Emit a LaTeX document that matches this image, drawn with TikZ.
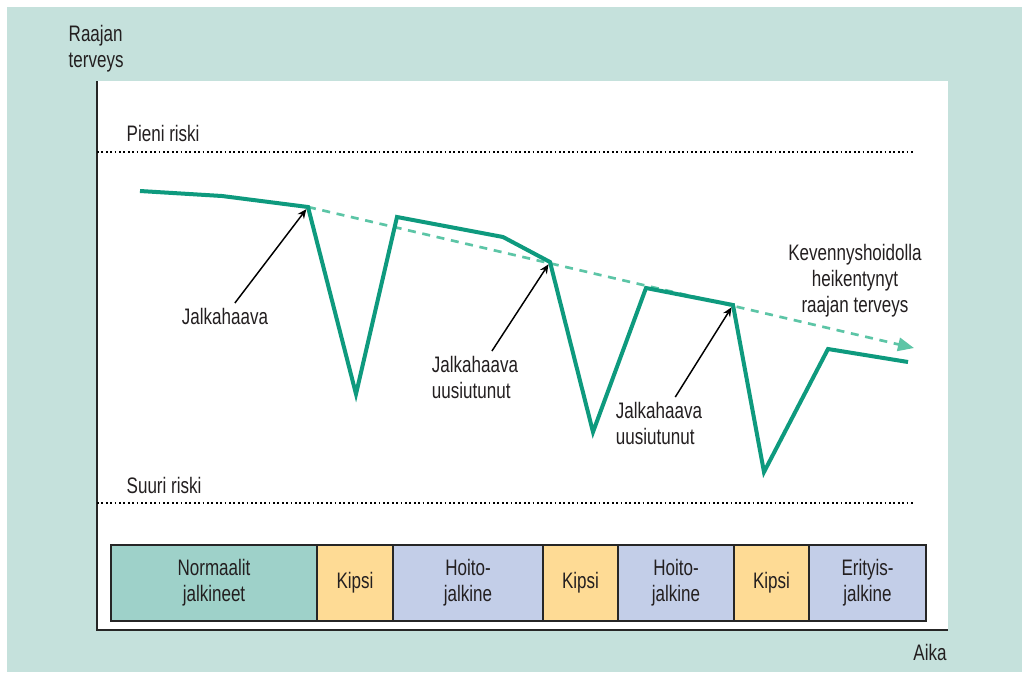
\documentclass[tikz,border=0pt]{standalone}
\usepackage{fontspec}
\setmainfont[FakeStretch=0.76]{Liberation Sans}
\usetikzlibrary{arrows.meta, positioning}

\definecolor{panelbg}{HTML}{C5E1DC}
\definecolor{healthgreen}{HTML}{0E9A7E}
\definecolor{trendgreen}{HTML}{5CC5A6}
\definecolor{shoeteal}{HTML}{9ED1C9}
\definecolor{castyellow}{HTML}{FEDB95}
\definecolor{careblue}{HTML}{C3CEE8}
\definecolor{textgray}{HTML}{231F20}

\begin{document}
\begin{tikzpicture}[
    x=0.75pt, y=-0.75pt,
    every node/.style={
            font=\fontsize{16.8}{19.5}\selectfont,
            text=textgray
        },
    health/.style={draw=healthgreen, line width=3pt},
    trend/.style={
            draw=trendgreen,
            line width=2pt,
            dash pattern=on 6pt off 5pt,
            -{Triangle[length=12pt, width=10pt, fill=trendgreen]}
        },
    pointer/.style={-{Stealth[length=7pt, width=6pt]}, line width=1.1pt, shorten >=2pt},
    axis/.style={line width=1.5pt, draw=black!85},
    risk_line/.style={dotted, line width=1.3pt},
    phase/.style={
            draw=black!85,
            line width=1.2pt,
            minimum height=57pt,
            inner sep=0pt,
            outer sep=0pt,
            align=center
        },
    plain_shoe/.style={phase, fill=shoeteal},
    cast_block/.style={phase, fill=castyellow},
    care_block/.style={phase, fill=careblue},
    ]

    % --- Background ---
    \useasboundingbox (0,0) rectangle (1022,672);
    \fill[white] (0,0) rectangle (1022,672);
    \fill[panelbg] (7,7) rectangle (1022,672);
    \fill[white] (97,81) rectangle (948,630);

    % --- Axes ---
    \draw[axis] (97,81) -- (97,630) -- (948,630);
    \node (y_label) [anchor=west, align=left] at (64,49) {Raajan\\terveys};
    \node (x_label) at (930,652) {Aika};

    % --- Risk levels ---
    \draw[risk_line] (97,152) -- (915,152);
    \draw[risk_line] (97,503) -- (915,503);
    \node (low_risk) [anchor=west] at (122,133) {Pieni riski};
    \node (high_risk) [anchor=west] at (122,485) {Suuri riski};

    % --- Limb health ---
    \coordinate (h0) at (140,191);
    \coordinate (h1) at (222,196);
    \coordinate (kink_a) at (308,207);
    \coordinate (h3) at (356,394);
    \coordinate (h4) at (397,217);
    \coordinate (h5) at (503,237);
    \coordinate (kink_b) at (550,262);
    \coordinate (h7) at (593,432);
    \coordinate (h8) at (646,288);
    \coordinate (kink_c) at (733,305);
    \coordinate (h10) at (764,472);
    \coordinate (h11) at (828,349);
    \coordinate (h12) at (908,362);
    \coordinate (trend_end) at (914,348);

    \draw[trend] (kink_a) -- (trend_end);
    \draw[health] (h0) -- (h1) -- (kink_a) -- (h3) -- (h4) -- (h5) -- (kink_b)
        -- (h7) -- (h8) -- (kink_c) -- (h10) -- (h11) -- (h12);

    % --- Labels ---
    \node (wound_a) at (225,316) {Jalkahaava};
    \node (wound_b) [align=left] at (475,377) {Jalkahaava\\uusiutunut};
    \node (wound_c) [align=left] at (659,423) {Jalkahaava\\uusiutunut};
    \node (trend_label) [align=center] at (855,281) {Kevennyshoidolla\\heikentynyt\\raajan terveys};

    \draw[pointer] (wound_a) -- (kink_a);
    \draw[pointer] (wound_b) -- (kink_b);
    \draw[pointer] (wound_c) -- (kink_c);

    % --- Footwear phases ---
    \node (normal_shoes) [plain_shoe, minimum width=154.5pt, anchor=west] at (111,583) {Normaalit\\jalkineet};
    \node (cast_a) [cast_block, minimum width=57pt, right=0pt of normal_shoes] {Kipsi};
    \node (care_a) [care_block, minimum width=112.5pt, right=0pt of cast_a] {Hoito-\\jalkine};
    \node (cast_b) [cast_block, minimum width=56.25pt, right=0pt of care_a] {Kipsi};
    \node (care_b) [care_block, minimum width=87pt, right=0pt of cast_b] {Hoito-\\jalkine};
    \node (cast_c) [cast_block, minimum width=56.25pt, right=0pt of care_b] {Kipsi};
    \node (special) [care_block, minimum width=87.75pt, right=0pt of cast_c] {Erityis-\\jalkine};

\end{tikzpicture}
\end{document}
